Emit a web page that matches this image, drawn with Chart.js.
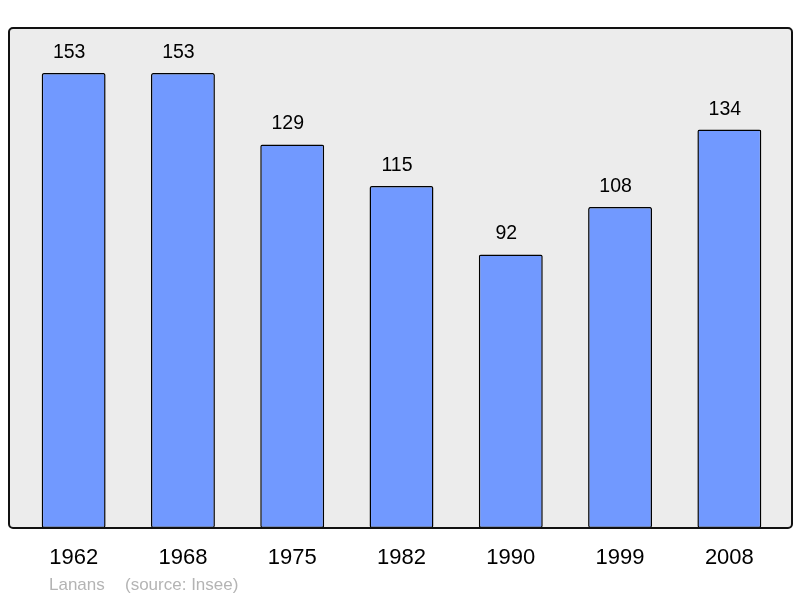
<!DOCTYPE html>
<html>
<head>
<meta charset="utf-8">
<script src="https://cdn.jsdelivr.net/npm/chart.js@4.4.0/dist/chart.umd.min.js"></script>
<style>
    body { margin: 0; background: #ffffff; }
    #wrap { width: 800px; height: 598px; position: relative; }
</style>
</head>
<body>
<div id="wrap"><canvas id="popChart"></canvas></div>
<script>
// Population data (Lanans, source: Insee)
const years = ['1962', '1968', '1975', '1982', '1990', '1999', '2008'];
const population = [153, 153, 129, 115, 92, 108, 134];
const townName = 'Lanans';
const sourceNote = '(source: Insee)';

// Frame behind the bars + value labels + source line
const framePlugin = {
    id: 'frame',
    beforeDraw(chart) {
        const ctx = chart.ctx;
        ctx.save();
        ctx.beginPath();
        ctx.roundRect(9, 28, 783, 500, 4);
        ctx.fillStyle = '#ececec';
        ctx.fill();
        ctx.restore();
    },
    afterDatasetsDraw(chart) {
        const ctx = chart.ctx;
        ctx.save();
        ctx.beginPath();
        ctx.roundRect(9, 28, 783, 500, 4);
        ctx.lineWidth = 2;
        ctx.strokeStyle = '#111111';
        ctx.stroke();

        // value labels above each bar (slightly left of centre, as in the original)
        const meta = chart.getDatasetMeta(0);
        ctx.fillStyle = '#000000';
        ctx.font = '19.5px "Liberation Sans", Arial, sans-serif';
        ctx.textAlign = 'center';
        ctx.textBaseline = 'alphabetic';
        meta.data.forEach((bar, i) => {
            ctx.fillText(String(population[i]), bar.x - 4.5, bar.y - 15);
        });

        // source line
        ctx.fillStyle = '#b4b4b4';
        ctx.font = '17px "Liberation Sans", Arial, sans-serif';
        ctx.textAlign = 'left';
        ctx.fillText(townName, 49, 590);
        ctx.fillText(sourceNote, 125, 590);
        ctx.restore();
    }
};

new Chart(document.getElementById('popChart'), {
    type: 'bar',
    data: {
        labels: years,
        datasets: [{
            data: population,
            backgroundColor: '#7199ff',
            borderColor: '#000000',
            borderWidth: 1.5,
            borderRadius: 2,
            borderSkipped: false,
            categoryPercentage: 1.0,
            barPercentage: 0.585
        }]
    },
    options: {
        responsive: true,
        maintainAspectRatio: false,
        animation: false,
        layout: { padding: { left: 19, right: 16, top: 27, bottom: 0 } },
        plugins: {
            legend: { display: false },
            tooltip: { enabled: false }
        },
        scales: {
            x: {
                grid: { display: false, drawTicks: false },
                border: { display: false },
                ticks: {
                    color: '#000000',
                    padding: 17,
                    font: { family: '"Liberation Sans", Arial, sans-serif', size: 22 }
                },
                afterFit(scale) { scale.height = 70; }
            },
            y: {
                display: false,
                min: 0,
                max: 168.5
            }
        }
    },
    plugins: [framePlugin]
});
</script>
</body>
</html>
